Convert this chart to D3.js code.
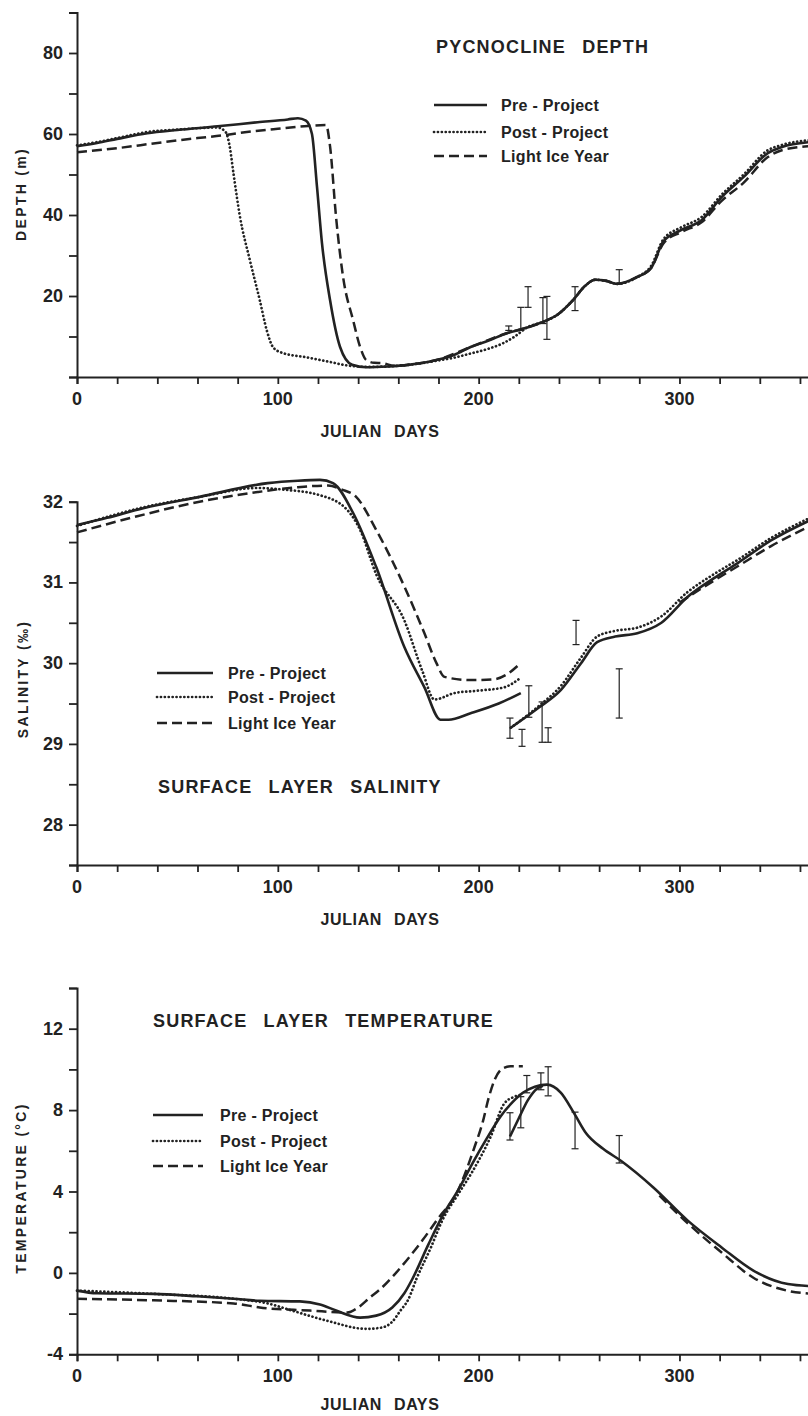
<!DOCTYPE html>
<html>
<head>
<meta charset="utf-8">
<script src="https://cdn.jsdelivr.net/npm/d3@7"></script>
<style>
  body { margin: 0; background: #fff; }
  svg { display: block; font-family: "Liberation Sans", Arial, sans-serif; font-weight: bold; }
  text { fill: #222; }
</style>
</head>
<body>
<div id="chart"></div>
<script>
// ---- data: [julian day, value] ----
var legendNames = ["Pre - Project", "Post - Project", "Light  Ice  Year"];

// pycnocline depth (m)
var depthPre = [[0,57],[10,57.8],[20,58.8],[35,60.2],[50,61],[70,61.9],[90,62.9],[105,63.6],[110,63.9],[114,63.3],[117,60],[119.5,47],[122,33],[126,19],[131,7.4],[137,3],[144,2.4],[155,2.6],[165,3],[179,4.2],[188,5.5],[196,7.4],[205,9],[214,10.8],[224,12.2],[232,13.6],[239,15.3],[247,19],[253,22.5],[258,24],[263,23.8],[269,23],[279,24.7],[286,27],[292,33.5],[301,36.3],[311,38.7],[321,44.4],[332,49.4],[344,55.3],[351,56.8],[365,58]];
var depthPost = [[0,57.2],[10,58],[20,59],[35,60.5],[50,61.1],[70,61.6],[74,60.5],[76,57],[78,50],[81,40],[86,29],[91,19],[94.5,11.5],[97.7,7.3],[102,6],[115,4.8],[127,3.6],[134,2.9],[145,2.5],[155,2.6],[165,3],[179,4],[188,4.8],[196,5.8],[205,7],[212,8.3],[218,10],[224,12.2],[232,13.6],[239,15.3],[247,19],[253,22.5],[258,24],[263,23.8],[269,23],[279,24.7],[286,27.5],[292,34],[301,37],[311,39.5],[321,45],[332,50],[344,56],[351,57.3],[365,58.5]];
var depthLight = [[0,55.5],[20,56.5],[40,57.8],[60,59],[73,59.7],[80,60.2],[100,61.3],[115,62],[124,62.2],[126,57],[129,39.5],[132.5,24.7],[137.5,14],[141,7.4],[144,4.2],[148,3.5],[152,3.4],[158,2.8],[165,3],[179,4.2],[196,7.4],[214,10.8],[224,12.2],[232,13.6],[239,15.3],[247,19],[253,22.5],[258,24],[263,23.8],[269,23],[279,24.7],[286,27],[292,33],[301,35.8],[311,38.2],[321,43.5],[332,48],[344,54.3],[351,56],[365,57]];
var depthErr = [[215,11.5,12.6],[221,11.5,17.2],[224.6,17.2,22.3],[232,13.2,19.6],[234,9.3,19.9],[248,16.4,22.3],[270,23,26.5]];

// surface layer salinity (per mil): model run, then restart from day 216
var salinityPre = [
  [[0,31.71],[15,31.8],[33,31.92],[61,32.06],[95,32.23],[110,32.26],[121,32.27],[127.5,32.23],[137.5,31.86],[149,31.19],[163,30.2],[173,29.7],[181,29.3],[185,29.3],[196,29.38],[210,29.5],[221,29.63]],
  [[216,29.2],[230,29.45],[241,29.67],[251,30],[259,30.26],[268,30.33],[279,30.37],[291,30.5],[304,30.82],[317,31.05],[329,31.24],[345.6,31.52],[365,31.77]]
];
var salinityPost = [
  [[0,31.7],[33,31.93],[61,32.06],[90,32.17],[102.6,32.15],[121,32.08],[134.5,31.9],[141,31.65],[149,31.1],[163,30.53],[172,29.9],[178,29.55],[188,29.63],[200,29.66],[212.6,29.7],[221,29.82]],
  [[216,29.2],[230,29.47],[241,29.72],[251,30.07],[259,30.33],[268,30.4],[279,30.44],[291,30.58],[304,30.88],[317,31.1],[329,31.28],[345.6,31.55],[365,31.8]]
];
var salinityLight = [
  [[0,31.62],[30,31.82],[61,32.0],[90,32.12],[110,32.18],[125,32.2],[132,32.15],[139,32.06],[149,31.65],[163,30.95],[173,30.37],[179,30],[183,29.83],[196,29.79],[207.6,29.8],[214,29.86],[220,29.98]],
  [[300,30.75],[317,31.02],[329,31.2],[345.6,31.45],[365,31.7]]
];
var salinityErr = [[215.6,29.07,29.32],[221.6,28.97,29.18],[225,29.33,29.72],[231.6,29.02,29.52],[234.6,29.02,29.2],[248.5,30.23,30.53],[270,29.32,29.93]];

// surface layer temperature (deg C)
var temperaturePre = [
  [[0,-0.87],[10,-1.0],[38,-1.03],[60,-1.15],[78,-1.27],[91,-1.37],[111,-1.4],[121,-1.55],[129,-1.85],[141,-2.2],[149,-2.1],[157,-1.7],[163,-1.0],[167,-0.3],[175,1.4],[182,2.8],[190,4.1],[197,5.4],[204,6.6],[211,7.7],[217,8.4],[222,8.85],[228,9.15],[234,9.25],[241,8.85],[247.5,7.85],[253.5,6.86],[262,6.1],[271,5.5],[287,4.2],[304,2.58],[321,1.25],[337,0.1],[354,-0.55],[365,-0.65]],
  [[215.6,6.7],[220,7.6],[224.6,8.5],[229,9.05],[232,9.2]]
];
var temperaturePost = [
  [[0,-0.87],[38,-1.03],[78,-1.27],[95,-1.5],[107,-1.85],[124.5,-2.35],[144,-2.75],[151,-2.7],[157,-2.4],[161,-1.86],[165,-1.3],[169,-0.3],[176,1.2],[182,2.6],[190,3.9],[197,5.0],[206,6.7],[212.6,8.3],[217.6,8.65],[221,8.75]]
];
var temperatureLight = [
  [[0,-1.27],[38,-1.35],[78,-1.5],[91,-1.7],[116,-1.85],[134.5,-1.95],[140,-1.7],[146,-1.2],[151,-0.8],[157,-0.2],[164,0.6],[172,1.6],[180,2.7],[189,3.9],[198,6.2],[202,7.4],[205,8.6],[208,9.5],[212,10.05],[216,10.15],[222,10.15]],
  [[290,3.8],[304,2.45],[321,1.0],[337,-0.25],[354,-0.88],[365,-1.02]]
];
var temperatureErr = [[215.6,6.53,7.87],[221,7.13,8.66],[224,8.85,9.7],[231,9.0,9.83],[234.6,8.7,10.13],[248,6.1,7.9],[270,5.4,6.75]];

var dayTicks = d3.range(0, 361, 20);
var dayLabels = [0, 100, 200, 300];

// ---- drawing ----
var W = 808, H = 1416, ink = "#222";

var svg = d3.select("#chart").append("svg")
    .attr("width", W)
    .attr("height", H);

var x = d3.scaleLinear().domain([0, 365]).range([77, 810]);

var styles = [
    {dash: null, cap: "butt", w: 2.6},
    {dash: "0.1,3.8", cap: "round", w: 2.7},
    {dash: "10,5", cap: "butt", w: 2.5}
];

function drawPanel(p) {
    var y = d3.scaleLinear().domain(p.domain).range(p.range);
    var g = svg.append("g");

    // x axis
    g.append("g")
        .attr("transform", "translate(0," + p.range[0] + ")")
        .call(d3.axisBottom(x).tickValues(dayTicks).tickSize(7).tickFormat(""))
        .call(function (a) {
            a.select(".domain").attr("stroke", ink).attr("stroke-width", 2);
            a.selectAll(".tick line").attr("stroke", ink).attr("stroke-width", 1.8);
        });
    g.selectAll(".xlab")
        .data(dayLabels)
        .enter().append("text")
        .attr("x", function (d) { return x(d); })
        .attr("y", p.range[0] + 28)
        .attr("text-anchor", "middle")
        .style("font-size", "18px")
        .text(function (d) { return d; });
    g.append("text")
        .attr("x", 380)
        .attr("y", Math.min(p.range[0] + 60, H - 6))
        .attr("text-anchor", "middle")
        .style("font-size", "16px")
        .style("letter-spacing", "0.6px")
        .style("word-spacing", "7px")
        .text("JULIAN  DAYS");

    // y axis
    g.append("g")
        .attr("transform", "translate(77,0)")
        .call(d3.axisLeft(y).tickValues(p.ticks).tickSize(8).tickFormat(""))
        .call(function (a) {
            a.select(".domain").attr("stroke", ink).attr("stroke-width", 2);
            a.selectAll(".tick line").attr("stroke", ink).attr("stroke-width", 1.8);
        });
    g.selectAll(".ylab")
        .data(p.labels)
        .enter().append("text")
        .attr("x", 63)
        .attr("y", function (d) { return y(d) + 6; })
        .attr("text-anchor", "end")
        .style("font-size", "18px")
        .text(function (d) { return d < 0 ? "-" + Math.abs(d) : d; });
    g.append("text")
        .attr("transform", "translate(" + p.ylabX + "," + p.ylabY + ") rotate(-90)")
        .attr("text-anchor", "middle")
        .style("font-size", "14px")
        .style("letter-spacing", "2.3px")
        .text(p.ylabel);

    // curves
    var line = d3.line()
        .x(function (d) { return x(d[0]); })
        .y(function (d) { return y(d[1]); })
        .curve(d3.curveMonotoneX);
    p.series.forEach(function (segs, i) {
        g.selectAll(null)
            .data(segs)
            .enter().append("path")
            .attr("d", line)
            .attr("fill", "none")
            .attr("stroke", ink)
            .attr("stroke-width", styles[i].w)
            .attr("stroke-linecap", styles[i].cap)
            .attr("stroke-dasharray", styles[i].dash);
    });

    // error bars
    var eb = g.selectAll(".err")
        .data(p.err)
        .enter().append("g")
        .attr("stroke", ink)
        .attr("stroke-width", 1.2);
    eb.append("line")
        .attr("x1", function (d) { return x(d[0]); })
        .attr("x2", function (d) { return x(d[0]); })
        .attr("y1", function (d) { return y(d[1]); })
        .attr("y2", function (d) { return y(d[2]); });
    [1, 2].forEach(function (k) {
        eb.append("line")
            .attr("x1", function (d) { return x(d[0]) - 3.5; })
            .attr("x2", function (d) { return x(d[0]) + 3.5; })
            .attr("y1", function (d) { return y(d[k]); })
            .attr("y2", function (d) { return y(d[k]); });
    });

    // title
    g.append("text")
        .attr("x", p.titleX)
        .attr("y", p.titleY)
        .style("font-size", "18px")
        .style("letter-spacing", "1.2px")
        .style("word-spacing", "10px")
        .text(p.title);

    // legend
    var lg = g.selectAll(".leg")
        .data(legendNames)
        .enter().append("g")
        .attr("transform", function (d, i) {
            return "translate(" + p.legX + "," + p.legY[i] + ")";
        });
    lg.append("line")
        .attr("x1", 0)
        .attr("x2", p.legLen)
        .attr("stroke", ink)
        .attr("stroke-width", function (d, i) { return styles[i].w; })
        .attr("stroke-linecap", function (d, i) { return styles[i].cap; })
        .attr("stroke-dasharray", function (d, i) { return styles[i].dash; });
    lg.append("text")
        .attr("x", p.legText)
        .attr("y", 6)
        .style("font-size", "16px")
        .style("letter-spacing", "0.3px")
        .text(function (d) { return d; });
}

drawPanel({
    domain: [0, 90], range: [377, 12.5],
    ticks: d3.range(0, 91, 10), labels: [20, 40, 60, 80],
    ylabel: "DEPTH (m)", ylabX: 26, ylabY: 194,
    series: [[depthPre], [depthPost], [depthLight]], err: depthErr,
    title: "PYCNOCLINE  DEPTH", titleX: 436, titleY: 53,
    legX: 434, legY: [105, 132, 156], legLen: 53, legText: 67
});

drawPanel({
    domain: [27.5, 32], range: [865, 501.7],
    ticks: d3.range(27.5, 32.01, 0.5), labels: [28, 29, 30, 31, 32],
    ylabel: "SALINITY (‰)", ylabX: 28, ylabY: 679,
    series: [salinityPre, salinityPost, salinityLight], err: salinityErr,
    title: "SURFACE  LAYER  SALINITY", titleX: 158, titleY: 793,
    legX: 157, legY: [673, 697, 723], legLen: 56, legText: 71
});

drawPanel({
    domain: [-4, 14], range: [1354.3, 988],
    ticks: d3.range(-4, 14.1, 2), labels: [-4, 0, 4, 8, 12],
    ylabel: "TEMPERATURE (°C)", ylabX: 26, ylabY: 1188,
    series: [temperaturePre, temperaturePost, temperatureLight], err: temperatureErr,
    title: "SURFACE  LAYER  TEMPERATURE", titleX: 153, titleY: 1027,
    legX: 153, legY: [1115, 1141, 1166], legLen: 50, legText: 67
});
</script>
</body>
</html>
